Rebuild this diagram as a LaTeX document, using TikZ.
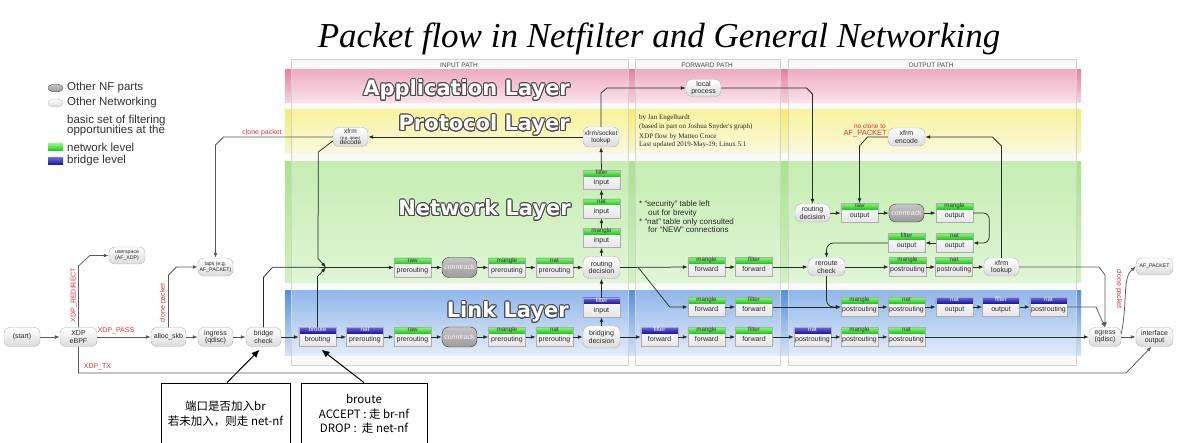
\documentclass[tikz,border=0pt]{standalone}
\usepackage{fontspec}
\setmainfont{Liberation Sans}
\newfontfamily\titlefont{Liberation Serif}
\newfontfamily\ltfont{DejaVu Sans}
\newfontfamily\cjk{Noto Sans CJK SC}
\usetikzlibrary{arrows.meta,calc,shapes.geometric}
\definecolor{pinkT}{RGB}{232,128,165}
\definecolor{pinkB}{RGB}{248,212,224}
\definecolor{yelT}{RGB}{246,238,105}
\definecolor{yelB}{RGB}{246,245,205}
\definecolor{grnT}{RGB}{168,228,138}
\definecolor{grnB}{RGB}{208,242,192}
\definecolor{bluT}{RGB}{85,145,225}
\definecolor{bluB}{RGB}{215,228,246}
\definecolor{ghT}{RGB}{140,248,120}
\definecolor{ghB}{RGB}{30,200,30}
\definecolor{bhT}{RGB}{105,105,228}
\definecolor{bhB}{RGB}{25,25,155}
\definecolor{lbl}{RGB}{225,50,60}
\definecolor{ln}{RGB}{35,45,35}
\newcommand\tb[5]{%
 \node[tbbody] (#1) at (#2) {};
 \path[#3hdr] (#1.north west) rectangle ([yshift=-6pt]#1.north east);
 \draw[tbline] (#1.north west) rectangle (#1.south east);
 \node[#3hdrtxt] at ([yshift=-3.1pt]#1.north) {#4};
 \node[bodytxt] at ([yshift=-3pt]#1.center) {#5};}
\newcommand\layertext[2]{%
 \foreach \ang in {0,22.5,...,337.5}{\node[ltitle,text=black!70] at ($(#1)+(\ang:1.0)$) {#2};}
 \node[ltitle,text=white] at (#1) {#2};}
\begin{document}
\begin{tikzpicture}[x=1pt,y=-1pt,
  onet/.style={rectangle,rounded corners=6pt,draw=gray!60,top color=white,bottom color=gray!28,minimum width=36pt,minimum height=19pt,inner sep=0pt,align=center,font=\fontsize{7}{7.6}\selectfont,text=black!85},
  nfp/.style={rectangle,rounded corners=7pt,draw=gray!40!black,top color=gray!45,bottom color=gray!78,minimum width=35pt,minimum height=20pt,inner sep=0pt,font=\fontsize{7}{8}\selectfont,text=gray!8},
  tbbody/.style={rectangle,minimum width=37pt,minimum height=19pt,inner sep=0pt,top color=white,bottom color=gray!20},
  tbline/.style={draw=gray!65,line width=0.5pt},
  ghdr/.style={top color=ghT,bottom color=ghB},
  bhdr/.style={top color=bhT,bottom color=bhB},
  ghdrtxt/.style={font=\fontsize{6.2}{6.2}\selectfont,text=black!80,inner sep=0pt,text height=4.3pt,text depth=1.2pt},
  bhdrtxt/.style={font=\fontsize{6.2}{6.2}\selectfont,text=white,inner sep=0pt,text height=4.3pt,text depth=1.2pt},
  bodytxt/.style={font=\fontsize{7}{7}\selectfont,text=black!85,inner sep=0pt,text height=5pt,text depth=1.5pt},
  arr/.style={draw=ln,line width=0.75pt,-{Latex[length=5pt,width=3.8pt]}},
  gar/.style={draw=gray!70!black,line width=0.75pt,-{Latex[length=5pt,width=3.8pt]}},
  lab/.style={text=lbl,font=\fontsize{7}{7}\selectfont,inner sep=0pt},
  ltitle/.style={anchor=east,font=\ltfont\bfseries\fontsize{21}{21}\selectfont,inner sep=0pt},
  ann/.style={draw=black,line width=0.8pt,fill=white,minimum width=129pt,minimum height=62pt,align=center,font=\cjk\fontsize{11.5}{14.5}\selectfont},
  annarr/.style={draw=black,line width=1pt,-{Latex[length=8pt,width=7pt]}},
  panel/.style={draw=gray!35,line width=0.6pt,fill=white,fill opacity=0.35},
  plabel/.style={font=\fontsize{6.5}{6.5}\selectfont,text=gray!55!black,inner sep=0pt},
  legtxt/.style={anchor=west,font=\fontsize{11.5}{11.5}\selectfont,text=black!80,inner sep=0pt},
  note/.style={anchor=base west,font=\fontsize{8}{8}\selectfont,text=black!85,inner sep=0pt},
  credit/.style={anchor=base west,font=\titlefont\fontsize{7}{7}\selectfont,text=black!85,inner sep=0pt},
  tiny5/.style={font=\fontsize{5.2}{6}\selectfont}
]
\useasboundingbox (0,0) rectangle (1200,443);
\fill[white] (0,0) rectangle (1200,443);
% panel bases
\fill[gray!7] (291,59) rectangle (628,365);
\fill[gray!7] (635,59) rectangle (780,365);
\fill[gray!7] (788,59) rectangle (1076,365);
% layer bands
\shade[top color=pinkT,bottom color=pinkB] (285,70) rectangle (1081,103);
\shade[top color=yelT,bottom color=yelB] (285,110) rectangle (1081,153);
\shade[top color=grnT,bottom color=grnB] (285,162) rectangle (1081,283);
\shade[top color=bluT,bottom color=bluB] (285,291) rectangle (1081,356);
% panel overlays
\path[panel] (291,59) rectangle (628,365);
\path[panel] (635,59) rectangle (780,365);
\path[panel] (788,59) rectangle (1076,365);
\node[plabel] (pin) at (459,65) {INPUT PATH};
\node[plabel] (pfw) at (707,65) {FORWARD PATH};
\node[plabel] (pout) at (931,65) {OUTPUT PATH};
% title
\node[font=\titlefont\itshape\fontsize{35}{35}\selectfont,anchor=base,inner sep=0pt] (title) at (659,48) {Packet flow in Netfilter and General Networking};
% layer titles
\layertext{570,90}{Application Layer}
\layertext{570,125}{Protocol Layer}
\layertext{571,210}{Network Layer}
\layertext{569,312}{Link Layer}
% legend
\node[ellipse,minimum width=15pt,minimum height=8pt,inner sep=0pt,top color=gray!45,bottom color=gray!80,draw=gray!70!black] (legnf) at (55.5,88) {};
\node[legtxt] (legnft) at (67,88) {Other NF parts};
\node[ellipse,minimum width=15pt,minimum height=8pt,inner sep=0pt,top color=white,bottom color=gray!30,draw=gray!55] (legon) at (55.5,103) {};
\node[legtxt] (legont) at (67,103) {Other Networking};
\node[legtxt] (legb1) at (67,120.5) {basic set of filtering};
\node[legtxt] (legb2) at (67,130.5) {opportunities at the};
\node[rectangle,minimum width=15pt,minimum height=7pt,inner sep=0pt,top color=ghT,bottom color=ghB] (legg) at (55.5,147) {};
\node[legtxt] (leggt) at (67,147) {network level};
\node[rectangle,minimum width=15pt,minimum height=7pt,inner sep=0pt,top color=bhT,bottom color=bhB] (legbl) at (55.5,161) {};
\node[legtxt] (legblt) at (67,161) {bridge level};
% credits and notes
\node[credit] (c1) at (639,119.5) {by Jan Engelhardt};
\node[credit] (c2) at (639,129) {(based in part on Joshua Snyder's graph)};
\node[credit] (c3) at (639,138.5) {XDP flow by Matteo Croce};
\node[credit] (c4) at (639,147) {Last updated 2019-May-19; Linux 5.1};
\node[note] (n1) at (639,207) {* “security” table left};
\node[note] (n2) at (648,215.5) {out for brevity};
\node[note] (n3) at (639,224.5) {* “nat” table only consulted};
\node[note] (n4) at (648,233) {for “NEW” connections};
% left nodes
\node[onet] (start) at (22,337) {(start)};
\node[onet,minimum width=37pt] (xdp) at (78.5,337) {XDP\\eBPF};
\node[onet,minimum height=17pt,tiny5] (userspace) at (127,255.5) {userspace\\(AF\_XDP)};
\node[onet,minimum width=35pt] (alloc) at (168.5,337) {alloc\_skb};
\node[onet,minimum width=35pt] (ingress) at (215.5,337) {ingress\\(qdisc)};
\node[onet,minimum width=35pt,minimum height=18pt,tiny5] (taps) at (215.5,267) {taps (e.g.\\AF\_PACKET)};
\node[onet,minimum width=35pt] (bcheck) at (263.5,337) {bridge\\check};
% link row 1
\tb{broute}{317.5,337}{b}{broute}{brouting}
\tb{lnatpre}{365,337}{b}{nat}{prerouting}
\tb{lrawpre}{412.5,337}{g}{raw}{prerouting}
\node[nfp] (lct) at (459.5,337) {conntrack};
\tb{lmanglepre}{507,337}{g}{mangle}{prerouting}
\tb{lnatpre2}{554.5,337}{g}{nat}{prerouting}
\node[onet,minimum width=37pt,minimum height=22pt] (bdec) at (601.5,337) {bridging\\decision};
\tb{lfilterin}{601.5,307.5}{b}{filter}{input}
\tb{lfilterfwd}{659.5,337}{b}{filter}{forward}
\tb{lmanglefwd}{706.5,337}{g}{mangle}{forward}
\tb{lfilterfwd2}{754,337}{g}{filter}{forward}
\tb{lnatpost}{812.5,337}{b}{nat}{postrouting}
\tb{lmanglepost}{859.5,337}{g}{mangle}{postrouting}
\tb{lnatpost2}{906.5,337}{g}{nat}{postrouting}
% link row 2
\tb{fmanglefwd}{706.5,307}{g}{mangle}{forward}
\tb{ffilterfwd}{754,307}{g}{filter}{forward}
\tb{omanglepost2}{859.5,307}{g}{mangle}{postrouting}
\tb{onatpost2}{906.5,307}{g}{nat}{postrouting}
\tb{onatout2}{954.5,307}{b}{nat}{output}
\tb{ofilterout2}{1001,307}{b}{filter}{output}
\tb{onatpost3}{1048.5,307}{b}{nat}{postrouting}
% network row
\tb{nrawpre}{412.5,267.5}{g}{raw}{prerouting}
\node[nfp] (nct) at (459.5,267.5) {conntrack};
\tb{nmanglepre}{507,267.5}{g}{mangle}{prerouting}
\tb{nnatpre}{554.5,267.5}{g}{nat}{prerouting}
\node[onet,minimum width=37pt,minimum height=22pt] (rdec) at (601.5,267.5) {routing\\decision};
\tb{nmanglein}{601.5,238}{g}{mangle}{input}
\tb{nnatin}{601.5,208.5}{g}{nat}{input}
\tb{nfilterin}{601.5,180}{g}{filter}{input}
\tb{nmanglefwd}{706.5,267}{g}{mangle}{forward}
\tb{nfilterfwd}{754,267}{g}{filter}{forward}
\node[onet,minimum width=37pt,minimum height=18pt] (reroute) at (826.5,267) {reroute\\check};
\tb{nmanglepost}{907.5,267}{g}{mangle}{postrouting}
\tb{nnatpost}{954,267}{g}{nat}{postrouting}
\node[onet,minimum width=35pt,minimum height=18pt] (xlookup) at (1001.5,267) {xfrm\\lookup};
% output network
\node[onet,minimum width=35pt,minimum height=18pt] (ordec) at (812.5,213) {routing\\decision};
\tb{orawout}{859.5,213}{g}{raw}{output}
\node[nfp,minimum height=18pt] (oct) at (906.5,213) {conntrack};
\tb{omangleout}{954.5,213}{g}{mangle}{output}
\tb{onatout}{954.5,243}{g}{nat}{output}
\tb{ofilterout}{906.5,243}{g}{filter}{output}
% upper
\node[onet,minimum width=37pt,minimum height=18pt] (xencode) at (906.5,137) {xfrm\\encode};
\node[onet,minimum width=35pt,minimum height=17pt] (local) at (703.5,88) {local\\process};
\node[onet,minimum width=36pt,minimum height=20pt,font=\fontsize{6.5}{7.2}\selectfont] (xsock) at (601,137) {xfrm/socket\\lookup};
\node[onet,minimum width=35pt,minimum height=19pt,font=\fontsize{6.5}{5.6}\selectfont] (xdecode) at (350.5,137) {xfrm\\{\fontsize{4}{4}\selectfont (e.g. ipsec)}\\decode};
% right end
\node[onet,minimum width=32pt] (egress) at (1105,337) {egress\\(qdisc)};
\node[onet,minimum width=37pt] (ifout) at (1154.5,337) {interface\\output};
\node[onet,minimum width=37pt,minimum height=17pt,tiny5] (afpacket) at (1154.5,266.5) {AF\_PACKET};
\node[lab,anchor=east,font=\fontsize{6.5}{6.5}\selectfont] (nc1) at (886,126) {no clone to};
\node[lab,anchor=east,font=\fontsize{7.5}{7.5}\selectfont] (nc2) at (887,133.5) {AF\_PACKET};
% ---- connectors, left part
\draw[gar] (start.east) -- (xdp.west);
\draw[gar] (xdp.east) -- (alloc.west);
\node[lab] (lpass) at (116,331) {XDP\_PASS};
\draw[gar] (xdp.north) -- ($(xdp.north |- userspace.west)+(0,10.5)$) -- ($(userspace.west)+(-19,0)$) -- (userspace.west);
\node[lab,rotate=90] (lredir) at (74,295) {XDP\_REDIRECT};
\coordinate (txc) at (1126,373);
\draw[gar] (xdp.south) |- (txc) -- ([xshift=-3pt]ifout.south);
\node[lab] (ltx) at (97.5,367) {XDP\_TX};
\draw[gar] (alloc.east) -- (ingress.west);
\draw[gar] (alloc.north) -- ($(alloc.north |- taps.west)+(0,8)$) -- ($(alloc.north |- taps.west)+(8,0)$) -- (taps.west);
\node[lab,rotate=90] (lclone1) at (163,303) {clone packet};
\draw[gar] (ingress.east) -- (bcheck.west);
\draw[arr] (bcheck.east) -- (broute.west);
\draw[arr] (bcheck.north) -- ([yshift=50pt]bcheck.north) -- ([xshift=9pt,yshift=60pt]bcheck.north) -- (nrawpre.west);
\coordinate (jn) at (326,267.5);
\draw[arr] ([yshift=-4pt]xdecode.west) -- ++(-14.5,11) -- ($(jn)+(-8,-9)$) -- (jn);
\draw[arr] (broute.north) -- ($(jn)+(-8.5,9)$) -- (jn);
\draw[gar] (xdecode.west) -- ($(taps.north |- xdecode.west)+(8,0)$) -- ($(taps.north |- xdecode.west)+(0,8)$) -- (taps.north);
\node[lab] (lclone2) at (262,133) {clone packet};
% link row 1
\foreach \a/\b in {broute/lnatpre,lnatpre/lrawpre,lrawpre/lct,lct/lmanglepre,lmanglepre/lnatpre2,lnatpre2/bdec,bdec/lfilterfwd,lfilterfwd/lmanglefwd,lmanglefwd/lfilterfwd2,lfilterfwd2/lnatpost,lnatpost/lmanglepost,lmanglepost/lnatpost2,lnatpost2/egress}
  {\draw[arr] (\a.east) -- (\b.west);}
\draw[arr] (bdec.north) -- (lfilterin.south);
\draw[arr] (lfilterin.north) -- (rdec.south);
% network row
\foreach \a/\b in {nrawpre/nct,nct/nmanglepre,nmanglepre/nnatpre,nnatpre/rdec,rdec/nmanglefwd,nmanglefwd/nfilterfwd,nfilterfwd/reroute,reroute/nmanglepost,nmanglepost/nnatpost,nnatpost/xlookup,ordec/orawout,orawout/oct,oct/omangleout,fmanglefwd/ffilterfwd,ffilterfwd/omanglepost2,omanglepost2/onatpost2,onatpost2/onatout2,onatout2/ofilterout2,ofilterout2/onatpost3}
  {\draw[arr] (\a.east) -- (\b.west);}
\draw[arr] (rdec.north) -- (nmanglein.south);
\draw[arr] (nmanglein.north) -- (nnatin.south);
\draw[arr] (nnatin.north) -- (nfilterin.south);
\draw[arr] (nfilterin.north) -- (xsock.south);
\draw[arr] (xsock.west) -- (xdecode.east);
\draw[arr] (xsock.north) -- ($(xsock.north |- local.west)+(0,5)$) -- ($(xsock.north |- local.west)+(6,0)$) -- (local.west);
\draw[arr] (local.east) -- ($(ordec.north |- local.east)+(-6,0)$) -- ($(ordec.north |- local.east)+(0,6)$) -- (ordec.north);
\draw[arr] ($(rdec.east)+(18,0)$) -- ($(fmanglefwd.west)+(-18,0)$) -- (fmanglefwd.west);
\draw[arr] (xlookup.north) -- ($(xlookup.north |- xencode.east)+(0,9)$) -- ($(xlookup.north |- xencode.east)+(-9,0)$) -- (xencode.east);
\draw[arr] (xencode.west) -- ($(orawout.north |- xencode.west)+(8,0)$) -- ($(orawout.north |- xencode.west)+(0,9)$) -- (orawout.north);
\draw[arr,rounded corners=6pt] (omangleout.east) -- ++(16,0) |- (onatout.east);
\draw[arr] (onatout.west) -- (ofilterout.east);
\draw[arr,rounded corners=7pt] (ofilterout.west) -| (reroute.north);
\draw[arr,rounded corners=7pt] (reroute.south) |- (omanglepost2.west);
% right end
\draw[gar] (xlookup.east) -- ($(egress.north |- xlookup.east)+(-6,0)$) -- ($(egress.north |- xlookup.east)+(0,8)$) -- (egress.north);
\draw[gar] (onatpost3.east) -- ($(egress.north |- onatpost3.east)+(-9,0)$) -- (egress.north);
\draw[gar] (egress.east) -- (ifout.west);
\draw[gar] ([yshift=3pt]egress.east) .. controls (1128,300) and (1122,278) .. (afpacket.west);
\node[lab,rotate=-90] (lclone3) at (1119,289) {clone packet};
% annotations
\node[ann] (ann1) at (225.5,414) {端口是否加入br\\若未加入，则走 net-nf};
\node[ann,minimum width=126pt] (ann2) at (364,414) {broute\\ACCEPT : 走 br-nf\\DROP :\ \ 走 net-nf};
\draw[annarr] ([xshift=1.5pt]ann1.north) -- ([xshift=-4pt,yshift=-3pt]bcheck.south);
\draw[annarr] (ann2.north) -- ([xshift=4pt,yshift=-3pt]broute.south);
\end{tikzpicture}
\end{document}
